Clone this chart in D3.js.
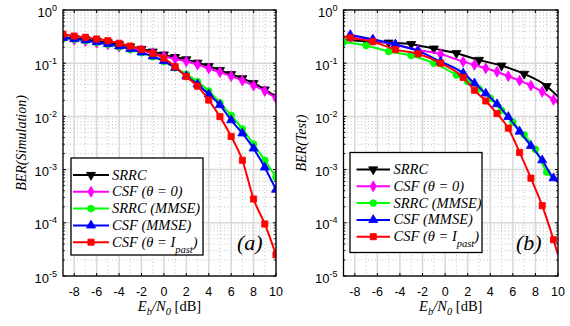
<!DOCTYPE html>
<html>
<head>
<meta charset="utf-8">
<script src="https://cdn.jsdelivr.net/npm/d3@7"></script>
<style>
  body { margin: 0; background: #fff; }
  text { fill: #000; }
</style>
</head>
<body>
<svg id="chart" width="570" height="326"></svg>
<script>
// ---- data ----
const xTicks = [-8, -6, -4, -2, 0, 2, 4, 6, 8, 10];
const yTickExp = [0, -1, -2, -3, -4, -5];

// (a) simulation, one point per dB
const simEbNo = [-9, -8, -7, -6, -5, -4, -3, -2, -1, 0, 1, 2, 3, 4, 5, 6, 7, 8, 9, 10];
const simSRRC = [0.31, 0.295, 0.28, 0.262, 0.245, 0.225, 0.205, 0.185, 0.165, 0.145, 0.13, 0.118, 0.102, 0.088, 0.074, 0.062, 0.052, 0.042, 0.032, 0.0235];
const simCSF0 = [0.29, 0.275, 0.26, 0.243, 0.225, 0.205, 0.19, 0.175, 0.155, 0.135, 0.12, 0.108, 0.094, 0.08, 0.068, 0.057, 0.047, 0.038, 0.03, 0.022];
const simSRRCmmse = [0.29, 0.28, 0.265, 0.245, 0.225, 0.203, 0.18, 0.157, 0.132, 0.108, 0.082, 0.062, 0.045, 0.03, 0.018, 0.0105, 0.0058, 0.003, 0.0015, 0.00072];
const simCSFmmse = [0.3, 0.285, 0.27, 0.25, 0.23, 0.208, 0.185, 0.16, 0.135, 0.11, 0.082, 0.057, 0.04, 0.026, 0.0164, 0.0085, 0.0048, 0.0025, 0.0011, 0.00042];
const simCSFpast = [0.35, 0.324, 0.307, 0.285, 0.265, 0.237, 0.21, 0.182, 0.153, 0.124, 0.086, 0.056, 0.037, 0.0203, 0.0099, 0.0042, 0.0015, 0.00028, 0.000095, 0.000025];

// (b) test
const testSRRCx = [-9, -7, -5, -3, -1, 1, 3, 5, 7, 9, 10];
const testSRRC = [0.28, 0.258, 0.243, 0.228, 0.188, 0.154, 0.115, 0.09, 0.063, 0.037, 0.0235];
const testCSF0x = [-8.4, -6.4, -4.4, -2.4, -0.4, 1.6, 2.6, 3.6, 4.6, 5.6, 6.6, 7.6, 8.6, 9.6, 10];
const testCSF0 = [0.3, 0.272, 0.22, 0.177, 0.148, 0.107, 0.093, 0.08, 0.069, 0.057, 0.047, 0.038, 0.029, 0.0205, 0.018];
const testSRRCmmseX = [-9, -7, -5, -3, -1, 1, 2, 3, 4, 5, 6, 7, 8, 9, 10];
const testSRRCmmse = [0.25, 0.215, 0.166, 0.14, 0.1, 0.06, 0.045, 0.033, 0.022, 0.013, 0.0078, 0.0045, 0.0024, 0.0009, 0.0006];
const testCSFmmseX = [-8.4, -6.4, -4.4, -2.4, -0.4, 1.6, 2.6, 3.6, 4.6, 5.6, 6.6, 7.6, 8.6, 9.6, 10];
const testCSFmmse = [0.34, 0.28, 0.226, 0.17, 0.107, 0.065, 0.042, 0.027, 0.017, 0.0098, 0.0052, 0.0028, 0.0015, 0.00069, 0.00058];
const testCSFpastX = [-9, -8.4, -6.4, -4.4, -2.4, -0.4, 1.6, 2.6, 3.6, 4.6, 5.6, 6.6, 7.6, 8.6, 9.6, 10];
const testCSFpast = [0.32, 0.3, 0.254, 0.18, 0.15, 0.1, 0.054, 0.031, 0.0195, 0.0113, 0.006, 0.0021, 0.00069, 0.00021, 0.000048, 0.000025];

const names = ["SRRC", "CSF0", "SRRCmmse", "CSFmmse", "CSFpast"];
const colors = { SRRC: "#000000", CSF0: "#ff00ff", SRRCmmse: "#00ff00", CSFmmse: "#0000ff", CSFpast: "#ff0000" };
const symbols = { SRRC: "tdown", CSF0: "diamond", SRRCmmse: "circle", CSFmmse: "tup", CSFpast: "square" };

const svg = d3.select("#chart");
const serif = "'Liberation Serif','Times New Roman',serif";
const sans = "'Liberation Sans',Arial,Helvetica,sans-serif";

function markerPath(kind) {
  if (kind === "circle") return d3.symbol(d3.symbolCircle, 36)();
  if (kind === "square") return d3.symbol(d3.symbolSquare, 38)();
  if (kind === "diamond") return d3.symbol(d3.symbolDiamond, 34)();
  return d3.symbol(d3.symbolTriangle, 36)();
}

function drawPanel(p) {
  const x = d3.scaleLinear().domain([-9, 10]).range([p.x0, p.x1]);
  const y = d3.scaleLog().domain([1e-5, 1]).range([276, 10]);
  const g = svg.append("g");
  const clipId = "clip" + p.id;
  svg.append("clipPath").attr("id", clipId)
    .append("rect").attr("x", p.x0).attr("y", 10).attr("width", p.x1 - p.x0).attr("height", 266);

  // minor grid
  const minorX = [-9, -7, -5, -3, -1, 1, 3, 5, 7, 9];
  g.selectAll(".mgx").data(minorX).enter().append("line")
    .attr("x1", d => x(d)).attr("x2", d => x(d)).attr("y1", 10).attr("y2", 276)
    .attr("stroke", "#b0b0b0").attr("stroke-width", 0.8).attr("stroke-dasharray", "1,2.5");
  const minorY = [];
  yTickExp.slice(0, -1).forEach(e => { for (let k = 2; k <= 9; k++) minorY.push(k * Math.pow(10, e - 1)); });
  g.selectAll(".mgy").data(minorY).enter().append("line")
    .attr("x1", p.x0).attr("x2", p.x1).attr("y1", d => y(d)).attr("y2", d => y(d))
    .attr("stroke", "#b0b0b0").attr("stroke-width", 0.8).attr("stroke-dasharray", "1,2.5");

  // major grid
  g.selectAll(".gx").data(xTicks).enter().append("line")
    .attr("x1", d => x(d)).attr("x2", d => x(d)).attr("y1", 10).attr("y2", 276)
    .attr("stroke", "#d8d8d8").attr("stroke-width", 1.5);
  g.selectAll(".gy").data(yTickExp).enter().append("line")
    .attr("x1", p.x0).attr("x2", p.x1).attr("y1", d => y(Math.pow(10, d))).attr("y2", d => y(Math.pow(10, d)))
    .attr("stroke", "#d8d8d8").attr("stroke-width", 1.5);

  // ticks (inside)
  const tk = g.append("g").attr("stroke", "#000").attr("stroke-width", 1);
  xTicks.forEach(d => {
    tk.append("line").attr("x1", x(d)).attr("x2", x(d)).attr("y1", 276).attr("y2", 273);
    tk.append("line").attr("x1", x(d)).attr("x2", x(d)).attr("y1", 10).attr("y2", 13);
  });
  yTickExp.forEach(e => {
    const yy = y(Math.pow(10, e));
    tk.append("line").attr("x1", p.x0).attr("x2", p.x0 + 3).attr("y1", yy).attr("y2", yy);
    tk.append("line").attr("x1", p.x1).attr("x2", p.x1 - 3).attr("y1", yy).attr("y2", yy);
  });
  minorY.forEach(v => {
    const yy = y(v);
    tk.append("line").attr("x1", p.x0).attr("x2", p.x0 + 1.8).attr("y1", yy).attr("y2", yy);
    tk.append("line").attr("x1", p.x1).attr("x2", p.x1 - 1.8).attr("y1", yy).attr("y2", yy);
  });

  // curves
  const line = d3.line().x(d => x(d[0])).y(d => y(d[1])).curve(d3.curveMonotoneX);
  const plot = g.append("g").attr("clip-path", `url(#${clipId})`);
  names.forEach(n => {
    const s = p.series[n];
    const pts = s.x.map((v, i) => [v, s.y[i]]);
    plot.append("path").attr("d", line(pts)).attr("fill", "none")
      .attr("stroke", colors[n]).attr("stroke-width", 2);
    const mk = pts.filter(d => !(s.noMark || []).includes(d[0]));
    plot.selectAll(null).data(mk).enter().append("path")
      .attr("d", markerPath(symbols[n]))
      .attr("transform", d => `translate(${x(d[0])},${y(d[1])})` + (symbols[n] === "tdown" ? " rotate(180)" : ""))
      .attr("fill", colors[n]).attr("stroke", colors[n]).attr("stroke-width", 0.8);
  });

  // box
  g.append("rect").attr("x", p.x0).attr("y", 10).attr("width", p.x1 - p.x0).attr("height", 266)
    .attr("fill", "none").attr("stroke", "#000").attr("stroke-width", 1.3);

  // tick labels
  g.selectAll(".xl").data(xTicks).enter().append("text")
    .attr("x", d => x(d)).attr("y", 296).attr("text-anchor", "middle")
    .style("font-family", sans).style("font-size", "12.5px").text(d => d);
  yTickExp.forEach(e => {
    const t = g.append("text").attr("x", p.x0 - 6).attr("y", y(Math.pow(10, e)) + 6.5)
      .attr("text-anchor", "end").style("font-family", sans).style("font-size", "13px");
    t.append("tspan").text("10");
    t.append("tspan").attr("dy", -6).style("font-size", "9px").text(e);
  });

  // axis labels
  const xl = g.append("text").attr("x", (p.x0 + p.x1) / 2).attr("y", 311)
    .attr("text-anchor", "middle").style("font-family", serif).style("font-size", "14.5px");
  xl.append("tspan").style("font-style", "italic").text("E");
  xl.append("tspan").style("font-style", "italic").style("font-size", "10.5px").attr("dy", 4).text("b");
  xl.append("tspan").style("font-style", "italic").attr("dy", -4).text("/N");
  xl.append("tspan").style("font-style", "italic").style("font-size", "10.5px").attr("dy", 4).text("0");
  xl.append("tspan").attr("dy", -4).text(" [dB]");

  svg.append("text").attr("transform", `translate(${p.ylx},143) rotate(-90)`)
    .attr("text-anchor", "middle").style("font-family", serif).style("font-size", "14px")
    .style("font-style", "italic").text("BER(" + p.ylab + ")");

  // panel tag
  svg.append("text").attr("x", p.tagX).attr("y", 250).style("font-family", serif)
    .style("font-size", "22px").style("font-style", "italic").text(p.tag);

  // legend
  const L = p.legend;
  const lg = svg.append("g");
  lg.append("rect").attr("x", L.x).attr("y", L.y).attr("width", L.w).attr("height", L.h)
    .attr("fill", "#fff").attr("stroke", "#000").attr("stroke-width", 1.3);
  const labels = [
    [["SRRC"]],
    [["CSF (θ = 0)"]],
    [["SRRC (MMSE)"]],
    [["CSF (MMSE)"]],
    [["CSF (θ = I"], ["past", 1], [")"]]
  ];
  names.forEach((n, i) => {
    const ry = L.y + L.first + i * L.step;
    lg.append("line").attr("x1", L.x + L.l0).attr("x2", L.x + L.l1).attr("y1", ry).attr("y2", ry)
      .attr("stroke", colors[n]).attr("stroke-width", 2);
    lg.append("path").attr("d", markerPath(symbols[n]))
      .attr("transform", `translate(${L.x + (L.l0 + L.l1) / 2},${ry})` + (symbols[n] === "tdown" ? " rotate(180)" : ""))
      .attr("fill", colors[n]).attr("stroke", colors[n]).attr("stroke-width", 0.8);
    const t = lg.append("text").attr("x", L.x + L.tx).attr("y", ry + 4.5)
      .style("font-family", serif).style("font-size", "14.5px").style("font-style", "italic");
    labels[i].forEach(part => {
      const sp = t.append("tspan").text(part[0]);
      if (part[1]) sp.attr("dy", 6).style("font-size", "10.5px");
      else if (part[0] === ")") sp.attr("dy", -6);
    });
  });
}

drawPanel({
  id: "a", x0: 63, x1: 276, ylab: "Simulation", ylx: 26, tag: "(a)", tagX: 237,
  legend: { x: 71, y: 158, w: 132, h: 97, first: 17, step: 16.8, l0: 2, l1: 38, tx: 41 },
  series: {
    SRRC: { x: simEbNo, y: simSRRC },
    CSF0: { x: simEbNo, y: simCSF0 },
    SRRCmmse: { x: simEbNo, y: simSRRCmmse },
    CSFmmse: { x: simEbNo, y: simCSFmmse },
    CSFpast: { x: simEbNo, y: simCSFpast }
  }
});

drawPanel({
  id: "b", x0: 343.5, x1: 558, ylab: "Test", ylx: 306, tag: "(b)", tagX: 516,
  legend: { x: 350, y: 152.5, w: 132, h: 100, first: 17, step: 16.8, l0: 6.5, l1: 40, tx: 43.5 },
  series: {
    SRRC: { x: testSRRCx, y: testSRRC, noMark: [-9, 10] },
    CSF0: { x: testCSF0x, y: testCSF0, noMark: [10] },
    SRRCmmse: { x: testSRRCmmseX, y: testSRRCmmse, noMark: [10] },
    CSFmmse: { x: testCSFmmseX, y: testCSFmmse, noMark: [10] },
    CSFpast: { x: testCSFpastX, y: testCSFpast, noMark: [-9, 10] }
  }
});
</script>
</body>
</html>
